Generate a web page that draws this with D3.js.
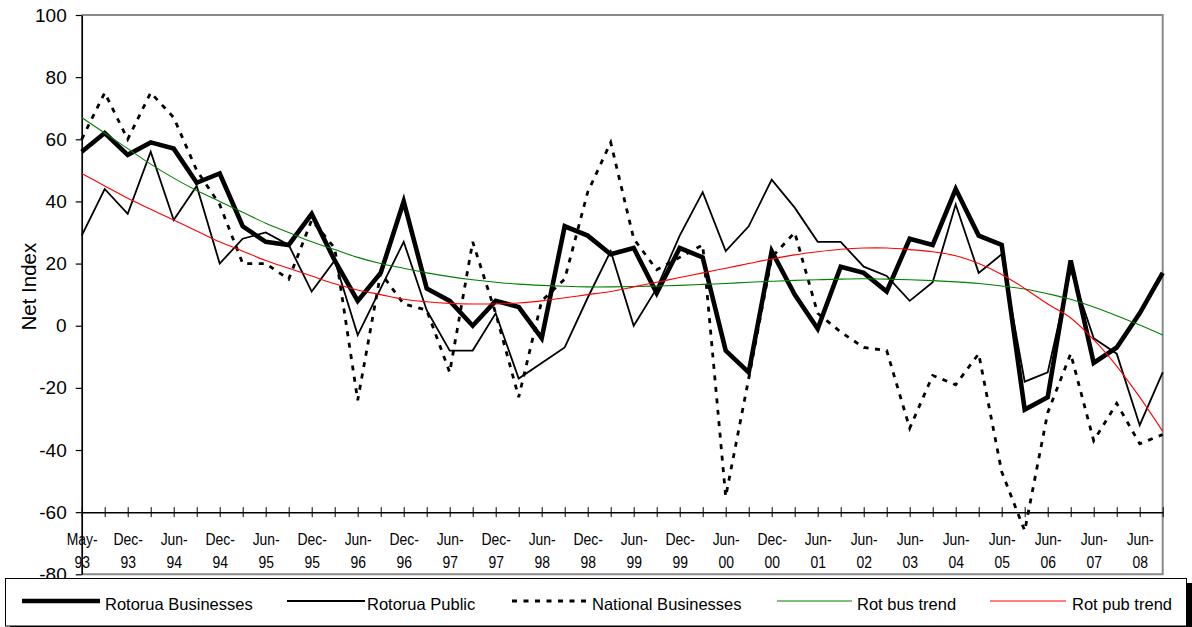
<!DOCTYPE html>
<html>
<head>
<meta charset="utf-8">
<script src="https://cdn.jsdelivr.net/npm/d3@7"></script>
<style>
  html, body { margin: 0; padding: 0; background: #fff; }
  svg { display: block; font-family: "Liberation Sans", Arial, sans-serif; }
</style>
</head>
<body>
<svg id="chart" width="1192" height="627"></svg>
<script>
// ---- data ----
const categories = ["May-93","Sep-93","Dec-93","Mar-94","Jun-94","Sep-94","Dec-94","Mar-95","Jun-95","Sep-95",
  "Dec-95","Mar-96","Jun-96","Sep-96","Dec-96","Mar-97","Jun-97","Sep-97","Dec-97","Mar-98",
  "Jun-98","Sep-98","Dec-98","Mar-99","Jun-99","Sep-99","Dec-99","Mar-00","Jun-00","Sep-00",
  "Dec-00","Mar-01","Jun-01","Dec-01","Jun-02","Dec-02","Jun-03","Dec-03","Jun-04","Dec-04",
  "Jun-05","Dec-05","Jun-06","Dec-06","Jun-07","Dec-07","Jun-08","Dec-08"];

const rotoruaBusinesses = [56,62,55,59,57,46,49,32,27,26,36,21,8,17,40,12,8,0,8,6,
  -4,32,29,23,25,10.5,25,22,-8,-15,24,10,-1,19,17,11,28,26,44,29,
  26,-27,-23,21,-12,-7,4,17];

const rotoruaPublic = [29,44,36,56,34,45,20,28,30,26,11,21,-3,12,27,5,-8,-8,4,-17,
  -12,-7,9,24,0,12,29,43,24,32,47,38,27,27,19,16,8,14,39,17,
  23,-18,-15,18,-4,-9,-32,-15];

const nationalBusinesses = [60,75,60,75,67,50,39,20,20,15,34,25,-24,17,7,5,-15,27,4,-23,
  8,15,43,59,28,18,22,26,-55,-17,22,30,4,-2,-7,-8,-33,-16,-19,-9,
  -47,-66,-28,-9,-37,-25,-38,-35];

const rotBusTrend = [67,62,57,52,47.5,43.5,40,36.5,33,30,27,24.5,22,20,18.5,17,15.8,14.8,14,13.4,
  13,12.7,12.5,12.5,12.6,12.8,13,13.3,13.6,14,14.3,14.6,14.8,15,15.1,15,14.8,14.5,14.1,13.6,
  12.8,11.8,10.3,8.5,6,3.2,0.2,-3];

const rotPubTrend = [49,45,41,37.5,34,30.5,27,24,21,18.5,16,13.5,11.5,10,8.5,7.7,7.2,7,7,7.3,
  8,9,10,11,12.5,14,15.5,17,18.5,20,21.5,22.8,23.8,24.6,25,25,24.5,23.8,22.5,20,
  16.5,12,7,2.5,-4.5,-13,-23,-34];

const yTicks = [-80,-60,-40,-20,0,20,40,60,80,100];
const xLabelEvery = 2;
const yTitle = "Net Index";
const legendNames = ["Rotorua Businesses","Rotorua Public","National Businesses","Rot bus trend","Rot pub trend"];

// ---- layout ----
const svg = d3.select("#chart");
const plotL = 81.7, plotR = 1162.7, plotT = 15, plotB = 574.3;

const x = d3.scalePoint().domain(categories).range([plotL, plotR]).padding(0);
const y = d3.scaleLinear().domain([-80, 100]).range([plotB, plotT]);

// plot area frame (grey)
svg.append("path")
  .attr("d", `M${plotL},${plotT}H${plotR}V${plotB}H${plotL}`)
  .attr("fill", "none").attr("stroke", "#8a8a8a").attr("stroke-width", 2);

// y axis
const yAxis = svg.append("g").attr("transform", `translate(${plotL},0)`)
  .call(d3.axisLeft(y).tickValues(yTicks).tickSize(6).tickSizeOuter(0).tickPadding(9)
    .tickFormat(d => String(d)));
yAxis.select(".domain").attr("stroke", "#000").attr("stroke-width", 1.7);
yAxis.selectAll(".tick line").attr("stroke", "#000").attr("stroke-width", 1.2);
yAxis.selectAll(".tick text").attr("font-size", 19).attr("fill", "#000")
  .attr("font-family", "'Liberation Sans', Arial, sans-serif");

// y title
svg.append("text")
  .attr("transform", `translate(36,${(plotT + plotB) / 2 - 8}) rotate(-90)`)
  .attr("text-anchor", "middle").attr("font-size", 20.5).attr("fill", "#000")
  .text(yTitle);

// x axis at -60
const xAxisG = svg.append("g").attr("transform", `translate(0,${y(-60)})`)
  .call(d3.axisBottom(x).tickValues(categories).tickSize(5).tickSizeOuter(0).tickFormat(""));
xAxisG.select(".domain").attr("stroke", "#000").attr("stroke-width", 1.5);
xAxisG.selectAll(".tick line").attr("y1", -5).attr("y2", 5).attr("stroke", "#000").attr("stroke-width", 1);
xAxisG.selectAll(".tick text").remove();
xAxisG.selectAll(".tick").each(function(d, i) {
  if (i % xLabelEvery !== 0) return;
  const parts = d.split("-");
  const t = d3.select(this).append("text")
    .attr("transform", "scale(0.82,1)")
    .attr("text-anchor", "middle").attr("font-size", 17).attr("fill", "#000")
    .attr("font-family", "'Liberation Sans', Arial, sans-serif");
  t.append("tspan").attr("x", 0).attr("y", 33).text(parts[0] + "-");
  t.append("tspan").attr("x", 0).attr("y", 56).text(parts[1]);
});

// series
const line = d3.line().x((d, i) => x(categories[i])).y(d => y(d));
const smooth = d3.line().x((d, i) => x(categories[i])).y(d => y(d)).curve(d3.curveCatmullRom.alpha(0.5));

const seriesStyles = [
  { data: rotoruaBusinesses, gen: line, stroke: "#000", width: 4.6, dash: null },
  { data: rotoruaPublic, gen: line, stroke: "#000", width: 1.8, dash: null },
  { data: nationalBusinesses, gen: line, stroke: "#000", width: 2.8, dash: "5,6.5" },
  { data: rotBusTrend, gen: smooth, stroke: "#008000", width: 1.1, dash: null },
  { data: rotPubTrend, gen: smooth, stroke: "#ff0000", width: 1.1, dash: null }
];

seriesStyles.forEach(s => {
  svg.append("path")
    .attr("d", s.gen(s.data))
    .attr("fill", "none")
    .attr("stroke", s.stroke)
    .attr("stroke-width", s.width)
    .attr("stroke-linejoin", "miter")
    .attr("stroke-dasharray", s.dash);
});

// legend
const legend = svg.append("g");
legend.append("rect").attr("x", 10).attr("y", 583).attr("width", 1182).attr("height", 50).attr("fill", "#000");
legend.append("rect").attr("x", 5.5).attr("y", 578.5).attr("width", 1181).attr("height", 47.5)
  .attr("fill", "#fff").attr("stroke", "#000").attr("stroke-width", 1);

const legendPos = [
  { x1: 22, x2: 100, tx: 105 },
  { x1: 287, x2: 365, tx: 367 },
  { x1: 512, x2: 588, tx: 592 },
  { x1: 777, x2: 852, tx: 857 },
  { x1: 990, x2: 1066, tx: 1072 }
];
legendNames.forEach((name, i) => {
  const s = seriesStyles[i], p = legendPos[i];
  legend.append("line")
    .attr("x1", p.x1).attr("x2", p.x2).attr("y1", 601).attr("y2", 601)
    .attr("stroke", s.stroke).attr("stroke-width", s.width).attr("stroke-dasharray", s.dash);
  legend.append("text").attr("x", p.tx).attr("y", 609.5)
    .attr("font-size", 16.5).attr("fill", "#000").text(name);
});
</script>
</body>
</html>
